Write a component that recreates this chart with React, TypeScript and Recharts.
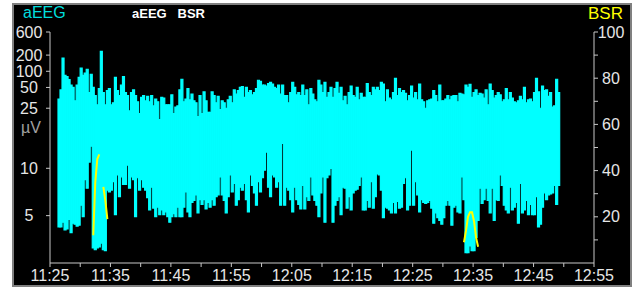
import { Bar, ComposedChart, Line, XAxis, YAxis } from "recharts";

// aEEG margins per 20 s epoch, µV (upper / lower edge of the band)
const UPPER = [
	34, 46, 176, 84, 80, 70, 55, 50, 32, 55, 77, 114, 84, 92, 109, 42, 88, 50, 38, 28,
	48, 238, 42, 28, 45, 48, 28, 30, 77, 45, 38, 55, 80, 42, 38, 24, 42, 46, 38, 31,
	23, 36, 38, 32, 37, 31, 38, 27,
	34, 31, 21, 36, 35, 28, 28, 28, 39, 23, 26, 27, 46, 71, 31, 34, 48, 33, 40, 32,
	30, 22, 38, 23, 43, 32, 23.5, 23.5, 43, 38, 30, 37, 24.5, 32, 30, 25, 33, 37, 30, 46,
	40, 45, 50, 52, 36, 50, 42, 45, 39, 42, 48, 68,
	65, 55, 55, 53, 59, 62, 58, 50, 48, 55, 40, 55, 38, 38, 30, 42, 62, 50, 39, 42,
	38, 55, 38, 46, 28, 48, 40, 33, 31, 68, 55, 42, 62, 36, 42, 50, 36, 48, 62, 41,
	50, 32, 37, 28, 42, 53, 38, 36, 50, 33, 41, 36,
	36, 59, 42, 38, 50, 46, 50, 45, 62, 58, 31, 46, 35, 33, 42, 74, 38, 48, 42, 45,
	41, 32, 38, 53, 35, 42, 33, 58, 33, 31, 25, 32, 33, 34, 45, 38, 31, 55, 32, 32,
	34, 38, 33, 37, 38, 38, 31, 41, 40, 39, 55, 50,
	57, 36, 42, 46, 38, 41, 40, 35, 46, 28, 58, 45, 35, 38, 42, 39, 31, 33, 48, 33,
	42, 35, 31, 30, 32, 37, 33, 50, 30, 33, 34, 31, 42, 74, 43, 25, 53, 45, 46, 37,
	42, 26, 27, 71, 42,
];

const LOWER = [
	3.8, 3.8, 4.3, 3.5, 3.6, 4.6, 3.2, 4.2, 4.1, 3.9, 4.0, 6.1, 4.9, 8.8, 7.9, 11, 14, 1.6, 1.4, 1.6,
	1.7, 2.1, 1.4, 1.3, 7.7, 7.5, 7.7, 8.6, 5.1, 9.3, 7.0, 9.1, 8.3, 8.3, 10.5, 7.9, 9.1, 8.8, 4.9, 9.0,
	7.7, 8.8, 8.0, 7.7, 6.9, 5.6, 8.0, 5.8,
	4.9, 5.9, 5.1, 5.6, 5.1, 5.4, 4.9, 4.3, 4.9, 5.2, 4.9, 5.9, 4.9, 4.9, 5.9, 7.5, 5.4, 4.9, 6.4, 6.6,
	7.2, 5.3, 6.7, 6.2, 6.7, 5.7, 6.4, 5.9, 6.7, 6.1, 7.0, 7.2, 9.1, 7.2, 6.6, 5.3, 7.0, 9.3, 7.5, 8.4,
	6.1, 6.7, 8.0, 7.7, 8.4, 6.7, 5.4, 9.3, 8.2, 7.4, 6.1, 8.6,
	7.5, 9.0, 9.8, 12.8, 8.0, 7.0, 9.3, 9.1, 8.0, 8.6, 6.1, 14.6, 6.1, 8.0, 7.7, 6.7, 5.4, 8.0, 6.7, 6.2,
	5.7, 8.2, 5.7, 7.0, 6.6, 9.1, 7.2, 6.6, 6.1, 4.9, 7.4, 9.1, 4.3, 9.0, 9.3, 10, 4.3, 6.1, 6.6, 7.0,
	5.1, 8.0, 7.9, 5.8, 7.0, 5.6, 7.4, 7.7, 7.8, 8.2, 9.1, 5.6,
	5.6, 6.6, 5.9, 8.6, 5.8, 7.0, 9.4, 9.3, 7.7, 4.8, 5.9, 5.8, 5.6, 5.3, 6.4, 5.3, 6.5, 5.8, 5.9, 8.4,
	9.0, 5.6, 6.1, 13.2, 6.1, 8.6, 7.2, 5.4, 6.7, 6.4, 6.3, 6.4, 6.6, 5.8, 4.2, 5.3, 4.8, 4.5, 4.1, 4.8,
	6.1, 6.6, 6.1, 4.0, 5.9, 6.1, 5.4, 5.3, 9.1, 6.7, 1.1, 1.1,
	1.8, 1.3, 1.3, 2.7, 4.5, 7.9, 6.3, 6.7, 7.9, 6.6, 5.3, 7.9, 4.5, 6.7, 6.6, 9.3, 8.2, 6.1, 5.6, 5.3,
	8.0, 5.6, 5.9, 6.4, 4.2, 8.4, 5.3, 5.6, 6.6, 5.1, 6.2, 5.1, 5.1, 7.0, 3.8, 4.1, 5.9, 7.4, 6.7, 7.2,
	7.3, 7.4, 8.2, 6.2, 8.2,
];

// BSR (%) only shown during the two suppression episodes
const BSR_A_START = 17;
const BSR_A = [12, 35, 45, 47, null, 33, 27, 19];
const BSR_B_START = 201;
const BSR_B = [9, 14, 20, 22, 22, 18, 11, 7];

const T0 = 1.49; // minutes after 11:25 of first epoch centre
const STEP = 1 / 3;

const UV_TICKS = [5, 10, 25, 50, 100, 200, 600];
const BSR_TICKS = [10, 20, 30, 40, 50, 60, 70, 80, 90, 100];
const TIME_TICKS = [0, 5, 10, 15, 20, 25, 30, 35, 40, 45, 50, 55, 60, 65, 70, 75, 80, 85, 90];

// semi-log aEEG display: linear up to 10 µV, compressed log segments above
const KNOTS: [number, number][] = [
	[10, 41],
	[25, 67],
	[50, 76],
	[100, 83],
	[200, 90],
	[600, 100],
];

function uvToAxis(v: number) {
	if (v <= 10) return (v / 10) * 41;
	for (let i = 0; i < KNOTS.length - 1; i++) {
		const [v0, u0] = KNOTS[i];
		const [v1, u1] = KNOTS[i + 1];
		if (v <= v1 || i === KNOTS.length - 2) {
			return u0 + ((u1 - u0) * Math.log(v / v0)) / Math.log(v1 / v0);
		}
	}
	return 100;
}

const bsrAt = (i: number) => {
	if (i >= BSR_A_START && i < BSR_A_START + BSR_A.length) return BSR_A[i - BSR_A_START];
	if (i >= BSR_B_START && i < BSR_B_START + BSR_B.length) return BSR_B[i - BSR_B_START];
	return null;
};

const data = UPPER.map((hi, i) => ({
	t: T0 + i * STEP,
	aeeg: [uvToAxis(LOWER[i]), uvToAxis(hi)],
	bsr: bsrAt(i),
}));

const FONT = "Arial, 'Liberation Sans', sans-serif";
const TICK_COLOR = "#e6e6e6";
const AXIS_COLOR = "#c8c8c8";
const CYAN = "#00ffff";

const timeLabel = (m: number) => {
	const total = 11 * 60 + 25 + m;
	const h = Math.floor(total / 60);
	const mm = total % 60;
	return `${h}:${String(mm).padStart(2, "0")}`;
};

function LeftTick({ y, payload }: any) {
	const idx = UV_TICKS.findIndex((v) => Math.abs(uvToAxis(v) - payload.value) < 0.01);
	return (
		<text x={29} y={y} dy={5.5} textAnchor="middle" fill={TICK_COLOR} fontSize={16} fontFamily={FONT}>
			{UV_TICKS[idx]}
		</text>
	);
}

function RightTick({ y, payload }: any) {
	if (payload.value % 20 !== 0) return <g />;
	return (
		<text x={611} y={y} dy={5.5} textAnchor="middle" fill={TICK_COLOR} fontSize={16} fontFamily={FONT}>
			{payload.value}
		</text>
	);
}

function TimeTick({ x, payload }: any) {
	if (payload.value % 10 !== 0) return <g />;
	return (
		<text x={x} y={281} textAnchor="middle" fill={TICK_COLOR} fontSize={16} fontFamily={FONT}>
			{timeLabel(payload.value)}
		</text>
	);
}

export default function App() {
	return (
		<div style={{ position: "absolute", left: 0, top: 0, width: 640, height: 291, background: "#fff" }}>
			<div
				style={{
					position: "absolute",
					left: 12,
					top: 3,
					width: 620,
					height: 284,
					boxSizing: "border-box",
					background: "#000",
					border: "2px solid #808080",
				}}
			/>
			<div style={{ position: "absolute", left: 0, top: 0 }}>
				<ComposedChart width={640} height={291} data={data} margin={{ top: 32, right: 12, bottom: 0, left: 12 }} barCategoryGap={0} barGap={0}>
					<XAxis
						dataKey="t"
						type="number"
						domain={[0, 90]}
						ticks={TIME_TICKS}
						interval={0}
						height={28}
						tick={(p) => <TimeTick {...p} />}
						tickSize={4}
						stroke={AXIS_COLOR}
					/>
					<YAxis
						yAxisId="left"
						type="number"
						domain={[0, 100]}
						ticks={UV_TICKS.map(uvToAxis)}
						interval={0}
						width={38}
						tick={(p) => <LeftTick {...p} />}
						tickSize={4}
						stroke={AXIS_COLOR}
					/>
					<YAxis
						yAxisId="right"
						orientation="right"
						type="number"
						domain={[0, 100]}
						ticks={BSR_TICKS}
						interval={0}
						width={34}
						tick={(p) => <RightTick {...p} />}
						tickSize={4}
						stroke={AXIS_COLOR}
					/>
					<Bar
						yAxisId="left"
						dataKey="aeeg"
						fill={CYAN}
						stroke={CYAN}
						strokeWidth={1.2}
						isAnimationActive={false}
					/>
					<Line
						yAxisId="right"
						dataKey="bsr"
						stroke="#ffff00"
						strokeWidth={2}
						dot={false}
						connectNulls={false}
						type="linear"
						isAnimationActive={false}
					/>
				</ComposedChart>
			</div>
			<div style={{ position: "absolute", left: 23, top: 4, color: "#00dede", fontFamily: FONT, fontSize: 16 }}>aEEG</div>
			<div style={{ position: "absolute", left: 132, top: 6, color: "#ffffff", fontFamily: FONT, fontSize: 13, fontWeight: "bold", whiteSpace: "pre" }}>
				aEEG   BSR
			</div>
			<div style={{ position: "absolute", left: 588, top: 4, color: "#ffff00", fontFamily: FONT, fontSize: 17 }}>BSR</div>
			<div style={{ position: "absolute", left: 21, top: 119, color: "#a0a0a0", fontFamily: FONT, fontSize: 16 }}>µV</div>
		</div>
	);
}
